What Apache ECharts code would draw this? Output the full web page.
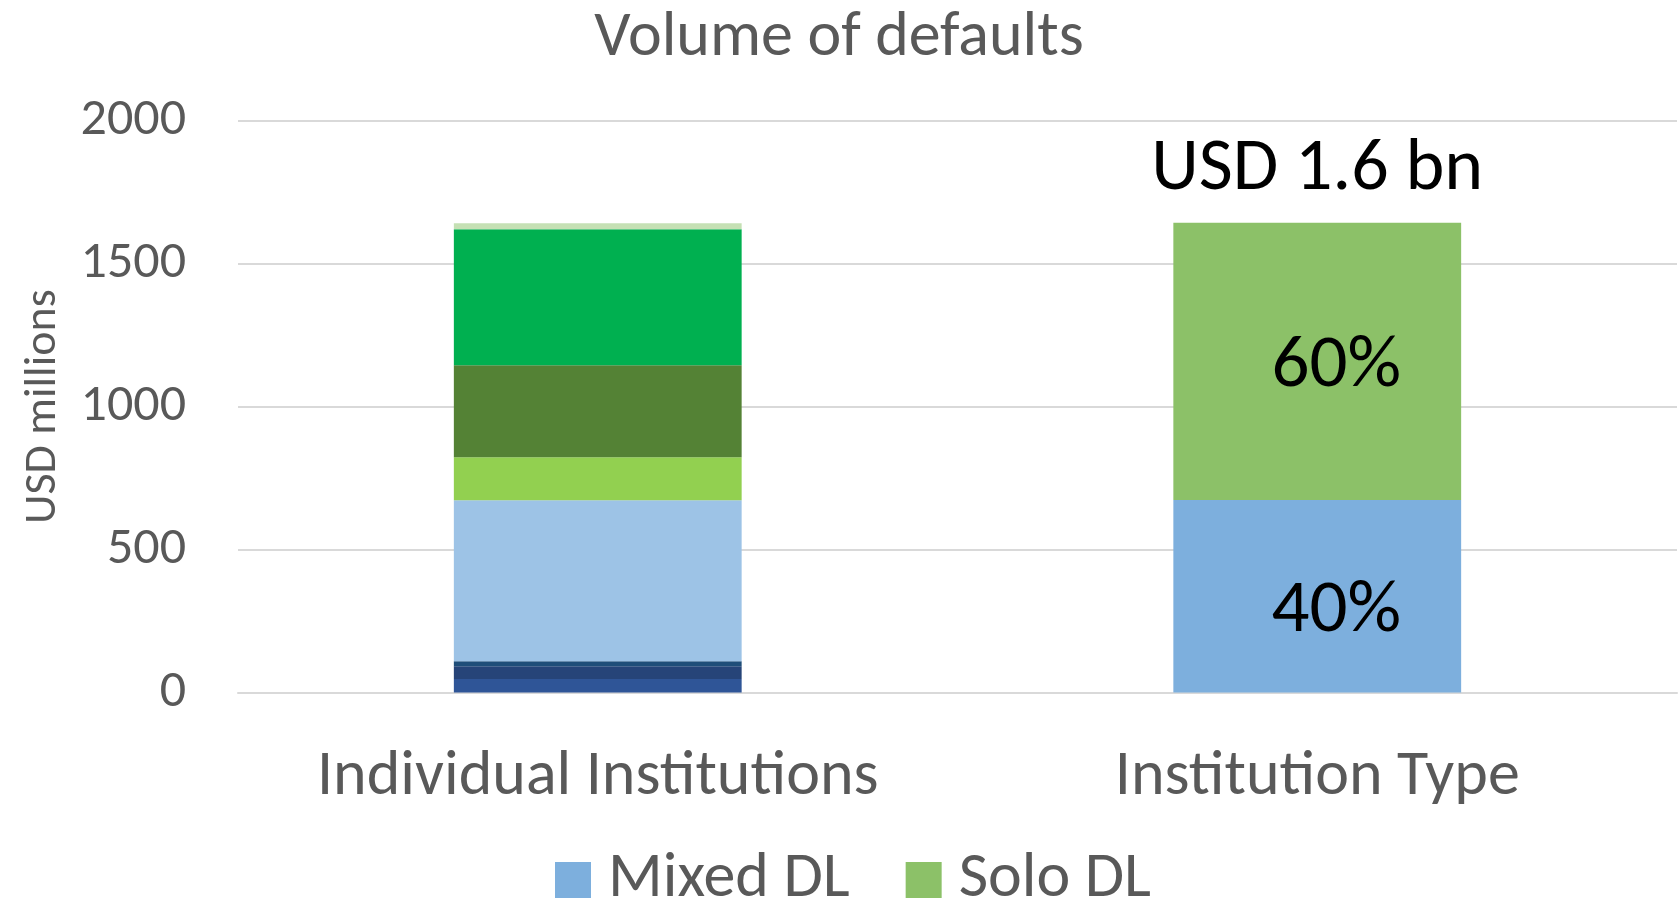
<!DOCTYPE html>
<html>
<head>
<meta charset="utf-8">
<script src="https://cdn.jsdelivr.net/npm/echarts@6/dist/echarts.min.js"></script>
<style>
html,body{margin:0;padding:0;background:#fff;}
#chart{width:1678px;height:908px;}
</style>
</head>
<body>
<div id="chart"></div>
<script>
// ---- data ----
const categories = ['Individual Institutions', 'Institution Type'];
const institutionNames = ['Institution 1', 'Institution 2', 'Institution 3', 'Institution 4', 'Institution 5', 'Institution 6', 'Institution 7', 'Institution 8'];
const institutionValues = [47, 45, 17, 564, 150, 322, 476, 21];
const typeNames = ['Mixed DL', 'Solo DL'];
const typeValues = [674, 970];
const typeShareLabels = ['40%', '60%'];
const totalLabel = 'USD 1.6 bn';
const yTicks = { min: 0, max: 2000, interval: 500 };

// ---- styles ----
const FONT = 'Carlito, Calibri, Lato, sans-serif';
const TXT = '#595959';
const institutionColors = ['#2F5597', '#264478', '#1F4E79', '#9DC3E6', '#92D050', '#548235', '#00B050', '#C5E0B4'];
const typeColors = ['#7DAFDD', '#8CC168'];
const shareOffsets = [[19, 16], [19, 6]];

const series = [];
institutionNames.forEach((n, i) => {
  series.push({
    name: n, type: 'bar', stack: 'total', barWidth: '40%',
    itemStyle: { color: institutionColors[i] },
    data: [institutionValues[i], '-']
  });
});
typeNames.forEach((n, i) => {
  series.push({
    name: n, type: 'bar', stack: 'total', barWidth: '40%',
    itemStyle: { color: typeColors[i] },
    label: {
      show: true, position: 'inside', offset: shareOffsets[i],
      formatter: () => typeShareLabels[i],
      color: '#000', fontFamily: FONT, fontSize: 75
    },
    data: ['-', typeValues[i]]
  });
});
series.push({
  name: 'Total', type: 'bar', stack: 'total', barWidth: '40%',
  itemStyle: { color: 'transparent' },
  label: {
    show: true, position: 'top', distance: 15,
    formatter: () => totalLabel,
    color: '#000', fontFamily: FONT, fontSize: 74
  },
  data: ['-', 0]
});

const chart = echarts.init(document.getElementById('chart'));
chart.setOption({
  animation: false,
  backgroundColor: '#fff',
  title: {
    text: 'Volume of defaults', left: 'center', top: 2,
    textStyle: { color: TXT, fontFamily: FONT, fontSize: 64, fontWeight: 'normal' }
  },
  legend: {
    data: typeNames, left: 550, top: 843,
    itemWidth: 36, itemHeight: 36, itemGap: 56,
    icon: 'rect',
    textStyle: { color: TXT, fontFamily: FONT, fontSize: 64, padding: [0, 0, 0, 12] }
  },
  grid: { left: 238, right: 1, top: 121, bottom: 215.5, containLabel: false },
  xAxis: {
    type: 'category', data: categories,
    axisLine: { lineStyle: { color: '#D9D9D9', width: 2 } },
    axisTick: { show: false },
    axisLabel: { color: TXT, fontFamily: FONT, fontSize: 64, margin: 53, interval: 0, hideOverlap: false }
  },
  yAxis: {
    type: 'value', min: yTicks.min, max: yTicks.max, interval: yTicks.interval,
    name: 'USD millions', nameLocation: 'middle', nameGap: 172,
    nameTextStyle: { color: TXT, fontFamily: FONT, fontSize: 46 },
    axisLine: { show: false }, axisTick: { show: false },
    splitLine: { lineStyle: { color: '#D9D9D9', width: 2 } },
    axisLabel: { color: TXT, fontFamily: FONT, fontSize: 52, margin: 52, formatter: v => String(v) }
  },
  series: series
});
</script>
</body>
</html>
